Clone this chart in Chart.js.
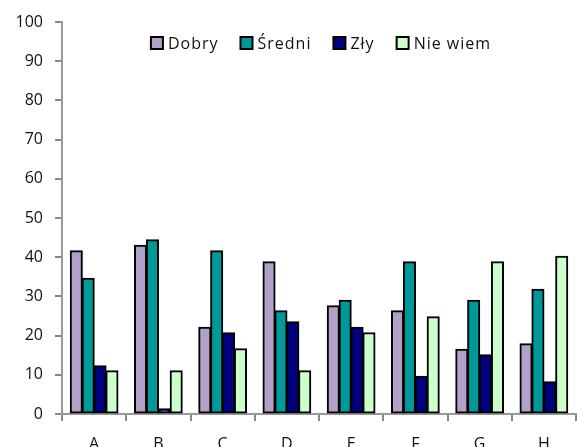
<!DOCTYPE html>
<html lang="pl">
<head>
  <meta charset="UTF-8" />
  <title>Ocena</title>
  <script src="https://cdn.jsdelivr.net/npm/chart.js"></script>
  <style>
    body {
      margin: 0;
      overflow: hidden;
      background: #fff;
    }
    .box {
      width: 577px;
      height: 460px;
    }
  </style>
</head>
<body>
  <div class="box"><canvas id="chart"></canvas></div>

  <script>
    const categories = ['A', 'B', 'C', 'D', 'E', 'F', 'G', 'H'];
    const seriesNames = ['Dobry', 'Średni', 'Zły', 'Nie wiem'];
    const dobry   = [41.6, 43.0, 22.1, 38.8, 27.6, 26.3, 16.5, 17.9];
    const sredni  = [34.6, 44.4, 41.6, 26.3, 29.0, 38.8, 29.0, 31.8];
    const zly     = [12.3, 1.3, 20.7, 23.5, 22.1, 9.6, 15.1, 8.2];
    const nieWiem = [11.0, 11.0, 16.6, 11.0, 20.7, 24.8, 38.8, 40.2];
    const colors = ['#b1a0c7', '#009999', '#000080', '#ccffcc'];

    const FONT = '"Open Sans", sans-serif';

    // legend drawn inside the plot area, like the original
    const insideLegend = {
      id: 'insideLegend',
      afterDraw(chart) {
        const ctx = chart.ctx;
        const area = chart.chartArea;
        ctx.save();
        ctx.font = '16px ' + FONT;
        ctx.letterSpacing = '1px';
        ctx.textBaseline = 'middle';
        const box = 12, gapText = 5, gapItem = 22;
        const items = chart.data.datasets.map(ds => ({
          label: ds.label, color: ds.backgroundColor, w: ctx.measureText(ds.label).width
        }));
        let total = 0;
        items.forEach((it, i) => {
          total += box + gapText + it.w + (i < items.length - 1 ? gapItem : 0);
        });
        let x = (area.left + area.right) / 2 - total / 2 + 2;
        const y = 43;
        items.forEach(it => {
          ctx.fillStyle = it.color;
          ctx.fillRect(x, y - box / 2, box, box);
          ctx.lineWidth = 2;
          ctx.strokeStyle = '#000';
          ctx.strokeRect(x, y - box / 2, box, box);
          ctx.fillStyle = '#111';
          ctx.fillText(it.label, x + box + gapText, y + 1);
          x += box + gapText + it.w + gapItem;
        });
        ctx.restore();
      }
    };

    const ctx = document.getElementById('chart').getContext('2d');
    new Chart(ctx, {
      type: 'bar',
      data: {
        labels: categories,
        datasets: [dobry, sredni, zly, nieWiem].map((vals, i) => ({
          label: seriesNames[i],
          data: vals,
          backgroundColor: colors[i],
          borderColor: '#000',
          borderWidth: 2,
          borderSkipped: false,
          inflateAmount: 0.6,
          categoryPercentage: 0.74,
          barPercentage: 1.0
        }))
      },
      options: {
        responsive: true,
        maintainAspectRatio: false,
        animation: false,
        layout: { padding: { top: 22, right: 1, left: 0, bottom: 0 } },
        plugins: {
          legend: { display: false },
          tooltip: { enabled: false }
        },
        scales: {
          x: {
            grid: {
              display: true,
              drawOnChartArea: false,
              offset: true,
              tickLength: 7,
              color: '#888',
              lineWidth: 2
            },
            border: { color: '#999', width: 2 },
            ticks: {
              color: '#111',
              font: { family: FONT, size: 16 },
              padding: 14
            },
            afterFit(scale) { scale.height = 46; }
          },
          y: {
            min: 0,
            max: 100,
            grid: {
              display: true,
              drawOnChartArea: false,
              tickLength: 7,
              color: '#888',
              lineWidth: 2
            },
            border: { color: '#999', width: 2 },
            ticks: {
              stepSize: 10,
              color: '#111',
              font: { family: FONT, size: 16 },
              padding: 12
            },
            afterFit(scale) { scale.width = 62; }
          }
        }
      },
      plugins: [insideLegend]
    });
  </script>
</body>
</html>
